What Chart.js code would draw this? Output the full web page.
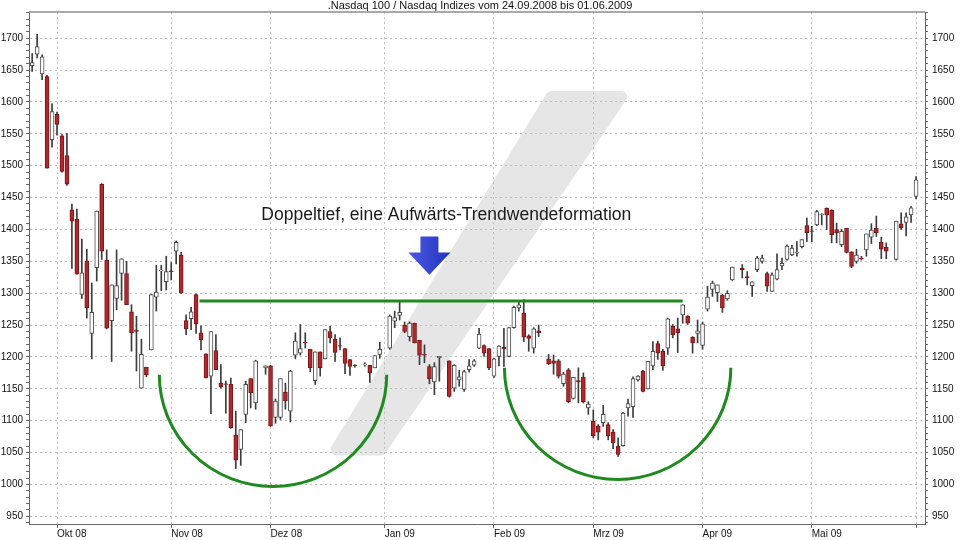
<!DOCTYPE html>
<html>
<head>
<meta charset="utf-8">
<script src="https://cdn.jsdelivr.net/npm/chart.js@4.4.1/dist/chart.umd.min.js"></script>
<style>
  body { margin: 0; background: #fff; }
  canvas { display: block; background: #fff; }
</style>
</head>
<body>
<canvas id="myChart" width="960" height="540"></canvas>
<script>
'use strict';

// one slot per weekday, 24.09.2008 .. 01.06.2009 (null = exchange holiday)
let openVals = [
  1657, 1675, 1644, 1640, 1541, 1581, 1547, 1516, 1431, 1416,
  1298, 1351, 1237, 1340, 1471, 1352, 1257, 1292, 1331, 1331,
  1271, 1242, 1151, 1184, 1211, 1294, 1335, 1318, 1335, 1366,
  1360, 1257, 1260, 1298, 1238, 1205, 1170, 1210, 1159, 1158,
  1157, 1077, 1055, 1110, 1166, 1128, null, 1183, 1186, 1105,
  1105, 1145, 1115, 1203, 1206, 1223, 1212, 1163, 1208, 1197,
  1240, 1228, 1218, 1213, 1196, 1187, null, 1188, 1187, 1183,
  1204, null, 1214, 1256, 1265, 1250, 1232, 1253, 1226, 1204,
  1185, 1161, 1199, null, 1194, 1151, 1164, 1149, 1180, 1187,
  1214, 1218, 1213, 1170, 1201, 1215, 1201, 1246, 1277, 1269,
  1233, 1214, 1241, null, 1197, 1194, 1194, 1158, 1180, 1135,
  1163, 1168, 1120, 1099, 1092, 1097, 1094, 1082, 1060, 1061,
  1120, 1122, 1164, 1178, 1150, 1186, 1221, 1209, 1214, 1248,
  1244, 1266, 1264, 1231, 1237, 1218, 1275, 1306, 1301, 1297,
  1291, 1321, null, 1339, 1326, 1312, 1337, 1350, 1331, 1303,
  1322, 1343, 1353, 1360, 1363, 1373, 1406, 1398, 1407, 1423,
  1433, 1430, 1400, 1376, 1402, 1365, 1350, 1355, 1368, 1388,
  1402, 1380, 1372, null, 1353, 1409, 1411, 1423, 1452
];
let highVals = [
  1676, 1706, 1674, 1642, 1597, 1584, 1549, 1551, 1440, 1432,
  1385, 1369, 1316, 1429, 1472, 1368, 1313, 1368, 1354, 1350,
  1282, 1264, 1228, 1184, 1298, 1344, 1344, 1358, 1348, 1382,
  1364, 1266, 1278, 1299, 1249, 1205, 1240, 1235, 1188, 1162,
  1167, 1115, 1086, 1162, 1166, 1195, null, 1186, 1187, 1134,
  1166, 1159, 1179, 1238, 1251, 1238, 1212, 1208, 1208, 1243,
  1248, 1235, 1230, 1213, 1196, 1188, null, 1191, 1187, 1202,
  1223, null, 1266, 1272, 1287, 1255, 1255, 1253, 1226, 1219,
  1188, 1191, 1201, null, 1194, 1188, 1179, 1179, 1196, 1196,
  1245, 1219, 1213, 1198, 1218, 1245, 1246, 1280, 1287, 1290,
  1235, 1246, 1250, null, 1204, 1203, 1196, 1176, 1182, 1168,
  1183, 1175, 1130, 1117, 1094, 1124, 1097, 1086, 1073, 1113,
  1134, 1169, 1171, 1179, 1193, 1224, 1225, 1212, 1261, 1251,
  1261, 1282, 1265, 1232, 1258, 1255, 1311, 1319, 1313, 1298,
  1304, 1341, null, 1345, 1334, 1318, 1358, 1360, 1333, 1332,
  1362, 1355, 1376, 1375, 1381, 1384, 1418, 1405, 1430, 1425,
  1434, 1431, 1410, 1400, 1402, 1365, 1369, 1358, 1393, 1409,
  1421, 1388, 1379, null, 1413, 1426, 1426, 1436, 1483
];
let lowVals = [
  1648, 1669, 1635, 1496, 1529, 1548, 1490, 1469, 1339, 1330,
  1292, 1261, 1197, 1319, 1353, 1244, 1193, 1274, 1289, 1282,
  1209, 1178, 1151, 1169, 1211, 1272, 1304, 1305, 1321, 1346,
  1300, 1235, 1243, 1237, 1211, 1167, 1111, 1180, 1151, 1112,
  1088, 1025, 1030, 1097, 1120, 1118, null, 1173, 1091, 1096,
  1102, 1118, 1098, 1197, 1203, 1214, 1177, 1157, 1170, 1197,
  1222, 1193, 1211, 1174, 1171, 1184, null, 1185, 1160, 1183,
  1198, null, 1212, 1246, 1258, 1238, 1225, 1222, 1188, 1191,
  1158, 1141, 1162, null, 1137, 1146, 1154, 1146, 1176, 1185,
  1213, 1201, 1180, 1168, 1186, 1185, 1200, 1245, 1272, 1224,
  1209, 1206, 1232, null, 1188, 1173, 1167, 1154, 1128, 1134,
  1128, 1128, 1110, 1073, 1070, 1091, 1070, 1056, 1044, 1060,
  1107, 1105, 1162, 1145, 1150, 1180, 1196, 1179, 1204, 1230,
  1207, 1253, 1251, 1206, 1222, 1212, 1272, 1295, 1287, 1270,
  1289, 1320, null, 1324, 1313, 1295, 1334, 1347, 1303, 1303,
  1321, 1337, 1352, 1359, 1358, 1371, 1381, 1381, 1406, 1407,
  1400, 1379, 1379, 1373, 1363, 1340, 1347, 1352, 1358, 1378,
  1389, 1354, 1354, null, 1352, 1400, 1390, 1411, 1448
];
let closeVals = [
  1662, 1687, 1671, 1496, 1585, 1565, 1491, 1471, 1413, 1330,
  1332, 1277, 1270, 1429, 1366, 1245, 1313, 1312, 1354, 1282,
  1238, 1240, 1204, 1172, 1298, 1302, 1336, 1334, 1334, 1380,
  1300, 1244, 1271, 1252, 1227, 1167, 1240, 1180, 1153, 1157,
  1089, 1038, 1086, 1157, 1144, 1194, null, 1186, 1092, 1131,
  1166, 1131, 1178, 1225, 1213, 1222, 1183, 1208, 1183, 1243,
  1230, 1207, 1217, 1190, 1185, 1186, null, 1189, 1175, 1202,
  1212, null, 1264, 1262, 1270, 1240, 1253, 1222, 1203, 1203,
  1166, 1185, 1201, null, 1138, 1187, 1169, 1177, 1186, 1194,
  1236, 1206, 1183, 1197, 1217, 1213, 1246, 1278, 1282, 1231,
  1229, 1244, 1238, null, 1189, 1190, 1170, 1173, 1130, 1168,
  1161, 1130, 1126, 1076, 1082, 1110, 1076, 1065, 1047, 1112,
  1127, 1166, 1170, 1146, 1193, 1209, 1206, 1186, 1260, 1235,
  1238, 1282, 1253, 1222, 1241, 1252, 1294, 1316, 1313, 1277,
  1300, 1341, null, 1337, 1324, 1318, 1355, 1355, 1311, 1329,
  1337, 1347, 1374, 1371, 1364, 1384, 1395, 1397, 1428, 1424,
  1423, 1392, 1395, 1397, 1364, 1342, 1360, 1354, 1393, 1399,
  1395, 1369, 1366, null, 1413, 1403, 1420, 1434, 1478
];

// first weekday of each month (slot index) and its label
let monthSlots = [5, 28, 48, 71, 93, 113, 135, 157, 178];
let monthLabels = ['Okt 08', 'Nov 08', 'Dez 08', 'Jan 09', 'Feb 09', 'Mrz 09', 'Apr 09', 'Mai 09', ''];

let yTickStart = 940;
let yTickEnd = 1740;
let yLabelStep = 50;

let chartTitle = '.Nasdaq 100 / Nasdaq Indizes vom 24.09.2008 bis 01.06.2009';
let noteText = 'Doppeltief, eine Aufwärts-Trendwendeformation';

// drawings on top of the chart, in slot / index units
let neckline = { from: 33.7, to: 131, value: 1288 };
let bowls = [
  { cx: 48.5, cy: 1172, rx: 22.9, ry: 175 },
  { cx: 117.9, cy: 1183, rx: 22.8, ry: 175 }
];
let arrowMark = { x: 80, top: 1389, neck: 1364, tip: 1329 };
let notePos = { x: 83.4, y: 1422 };
let slashMark = [[61.3, 1055], [70.2, 1055], [118.6, 1608], [104.6, 1608]];

const RED = '#b0282b';
const RED_EDGE = '#7a1518';

let wickData = [];
let bodyData = [];
for (let i = 0; i < openVals.length; i++) {
  if (openVals[i] === null) {
    continue;
  }
  wickData.push({ x: i, y: [lowVals[i], highVals[i]] });
  bodyData.push({ x: i, y: [openVals[i], closeVals[i]] });
}

function isUp(c) {
  let r = c.raw;
  return !r || r.y[1] >= r.y[0];
}

function yTicks(scale) {
  let t = [];
  for (let v = yTickStart; v <= yTickEnd; v += 10) {
    t.push({ value: v });
  }
  scale.ticks = t;
}

function yLabel(v) {
  return (v % yLabelStep === 0 && v >= 950 && v <= 1700) ? String(v) : '';
}

const overlay = {
  id: 'overlay',
  beforeDraw(chart) {
    let c = chart.ctx;
    let xs = chart.scales.x;
    let ys = chart.scales.y;
    c.save();
    c.fillStyle = '#e6e6e6';
    c.strokeStyle = '#e6e6e6';
    c.lineWidth = 12;
    c.lineJoin = 'round';
    c.beginPath();
    slashMark.forEach((p, i) => {
      let px = xs.getPixelForValue(p[0]);
      let py = ys.getPixelForValue(p[1]);
      if (i === 0) c.moveTo(px, py); else c.lineTo(px, py);
    });
    c.closePath();
    c.fill();
    c.stroke();
    c.restore();
  },
  afterDatasetsDraw(chart) {
    let c = chart.ctx;
    let xs = chart.scales.x;
    let ys = chart.scales.y;
    c.save();
    // neckline
    c.strokeStyle = '#1f8a1f';
    c.lineWidth = 3;
    c.beginPath();
    c.moveTo(xs.getPixelForValue(neckline.from), ys.getPixelForValue(neckline.value));
    c.lineTo(xs.getPixelForValue(neckline.to), ys.getPixelForValue(neckline.value));
    c.stroke();
    // the two bowls
    bowls.forEach(b => {
      let cx = xs.getPixelForValue(b.cx);
      let cy = ys.getPixelForValue(b.cy);
      let rx = xs.getPixelForValue(b.cx + b.rx) - cx;
      let ry = ys.getPixelForValue(b.cy - b.ry) - cy;
      c.beginPath();
      c.ellipse(cx, cy, rx, ry, 0, 0, Math.PI);
      c.stroke();
    });
    // arrow
    let ax = xs.getPixelForValue(arrowMark.x);
    let aTop = ys.getPixelForValue(arrowMark.top);
    let aNeck = ys.getPixelForValue(arrowMark.neck);
    let aTip = ys.getPixelForValue(arrowMark.tip);
    let g = c.createLinearGradient(ax - 21, 0, ax + 21, 0);
    g.addColorStop(0, '#4a5ae6');
    g.addColorStop(1, '#2333b8');
    c.fillStyle = g;
    c.beginPath();
    c.moveTo(ax - 9, aTop);
    c.lineTo(ax + 9, aTop);
    c.lineTo(ax + 9, aNeck);
    c.lineTo(ax + 21, aNeck);
    c.lineTo(ax, aTip);
    c.lineTo(ax - 21, aNeck);
    c.lineTo(ax - 9, aNeck);
    c.closePath();
    c.fill();
    // note
    c.fillStyle = '#1a1a1a';
    c.font = '17.5px "Liberation Sans", Arial, sans-serif';
    c.textAlign = 'center';
    c.textBaseline = 'middle';
    c.fillText(noteText, xs.getPixelForValue(notePos.x), ys.getPixelForValue(notePos.y));
    c.restore();
  },
  afterDraw(chart) {
    let a = chart.chartArea;
    let c = chart.ctx;
    c.save();
    c.strokeStyle = '#8c8c8c';
    c.lineWidth = 1.5;
    c.beginPath();
    c.moveTo(a.left, a.top);
    c.lineTo(a.right, a.top);
    c.stroke();
    c.restore();
  }
};

const tickFont = { family: '"Liberation Sans", Arial, sans-serif', size: 10 };

const ctx = document.getElementById('myChart').getContext('2d');
const myChart = new Chart(ctx, {
  type: 'bar',
  data: {
    datasets: [{
      label: 'Body',
      data: bodyData,
      order: 0,
      grouped: false,
      barThickness: 4,
      borderWidth: 1,
      borderSkipped: false,
      backgroundColor: c => isUp(c) ? '#ffffff' : RED,
      borderColor: c => isUp(c) ? '#4a4a4a' : RED_EDGE
    },
    {
      label: 'Range',
      data: wickData,
      order: 1,
      grouped: false,
      barThickness: 1,
      borderWidth: 0,
      backgroundColor: '#3c3c3c'
    }]
  },
  options: {
    responsive: false,
    animation: false,
    layout: { padding: 0 },
    plugins: {
      legend: { display: false },
      tooltip: { enabled: false },
      title: {
        display: true,
        text: chartTitle,
        color: '#111',
        font: { family: '"Liberation Sans", Arial, sans-serif', size: 11, weight: 'normal', lineHeight: 1.1 },
        padding: { top: 0, bottom: 0 }
      }
    },
    scales: {
      x: {
        type: 'linear',
        min: -0.64,
        max: 179.8,
        offset: false,
        afterBuildTicks: scale => { scale.ticks = monthSlots.map(v => ({ value: v })); },
        afterFit: scale => { scale.height = 16; },
        ticks: {
          autoSkip: false,
          maxRotation: 0,
          align: 'start',
          padding: 0,
          color: '#111',
          font: tickFont,
          callback: (v, i) => monthLabels[i]
        },
        grid: { offset: false, color: '#bdbdbd', tickColor: '#666', tickLength: 4 },
        border: { color: '#666', dash: [2, 3] }
      },
      y: {
        position: 'left',
        min: 938,
        max: 1741,
        afterBuildTicks: yTicks,
        afterFit: scale => { scale.width = 29; },
        ticks: { autoSkip: false, padding: 3, color: '#111', font: tickFont, callback: yLabel },
        grid: {
          color: c => (c.tick && c.tick.value % yLabelStep === 0) ? '#bdbdbd' : 'rgba(0,0,0,0)',
          tickColor: '#666',
          tickLength: 3
        },
        border: { color: '#666', dash: [2, 3] }
      },
      yRight: {
        position: 'right',
        min: 938,
        max: 1741,
        afterBuildTicks: yTicks,
        afterFit: scale => { scale.width = 35; },
        ticks: { autoSkip: false, padding: 4, color: '#111', font: tickFont, callback: yLabel },
        grid: { drawOnChartArea: false, tickColor: '#666', tickLength: 3 },
        border: { color: '#666' }
      }
    }
  },
  plugins: [overlay]
});
</script>
</body>
</html>
